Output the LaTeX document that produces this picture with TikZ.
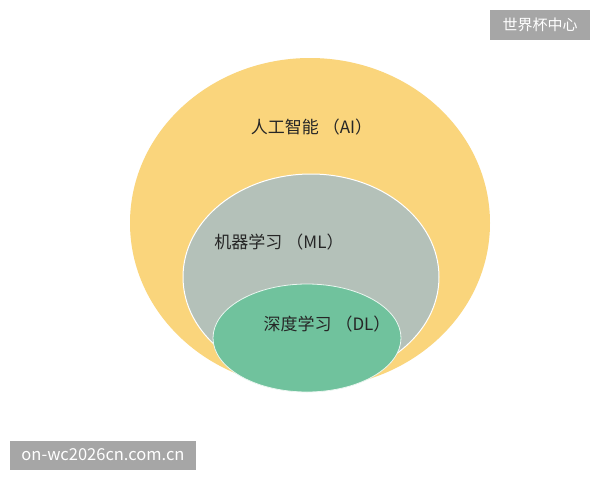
\documentclass[tikz,border=0pt]{standalone}
\usepackage{fontspec}
\setmainfont{Noto Sans CJK SC}
\newfontfamily\cjk{Noto Sans CJK SC}
\definecolor{aiyellow}{HTML}{FAD57C}
\definecolor{mlgrey}{HTML}{B4C1B9}
\definecolor{dlgreen}{HTML}{70C29D}
\definecolor{wmgrey}{HTML}{A6A6A6}
\newcommand{\gapA}{\hspace{4pt}}
\begin{document}
\begin{tikzpicture}[x=1pt,y=-1pt,
  lbl/.style={font=\cjk\fontsize{17}{17}\selectfont, text=black!85, inner sep=0pt},
  wm/.style={fill=wmgrey, text=white, inner sep=0pt, font=\cjk\fontsize{15}{15}\selectfont}]
\useasboundingbox[fill=white] (0,0) rectangle (600,480);
% sets
\fill[aiyellow] (310,223) ellipse [x radius=180, y radius=165];
\filldraw[fill=mlgrey, draw=white, line width=1pt] (311,277) ellipse [x radius=128, y radius=103];
\filldraw[fill=dlgreen, draw=white!85!dlgreen, line width=0.8pt] (307,338) ellipse [x radius=94, y radius=54];
% labels
\node[lbl] (ai) at (311.5,127) {人工智能\gapA（AI）};
\node[lbl] (ml) at (279,242) {机器学习\gapA（ML）};
\node[lbl] (dl) at (327,324) {深度学习\gapA（DL）};
% watermarks
\node[wm, minimum width=100pt, minimum height=30pt] (wtop) at (540,25) {世界杯中心};
\node[wm, minimum width=186pt, minimum height=29pt, font=\cjk\fontsize{16.5}{16.5}\selectfont] (wbot) at (103,455) {on-wc2026cn.com.cn};
\end{tikzpicture}
\end{document}
